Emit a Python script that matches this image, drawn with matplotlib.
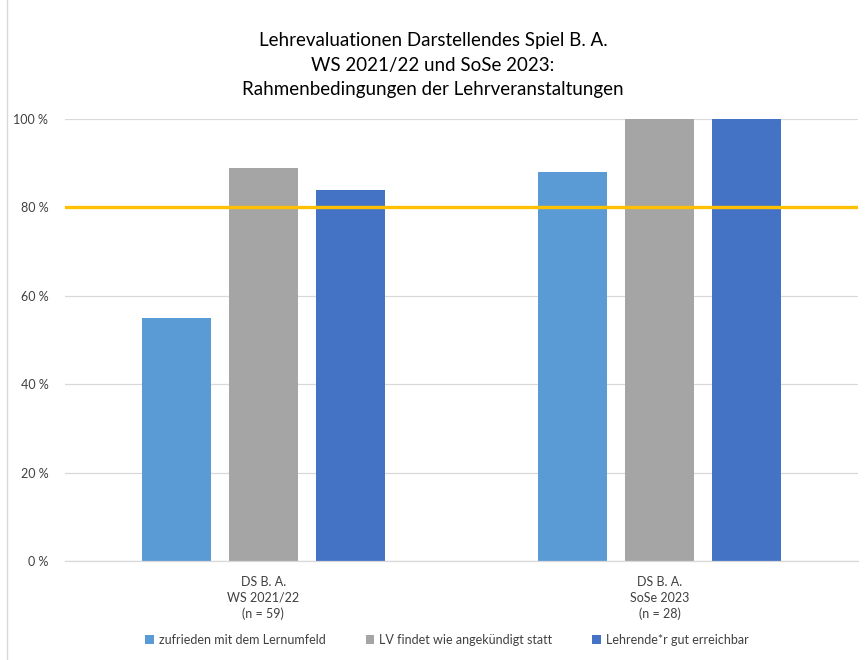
import matplotlib
matplotlib.use("Agg")
import matplotlib.pyplot as plt
from matplotlib.patches import Patch
from matplotlib.lines import Line2D
from matplotlib.ticker import FuncFormatter
import numpy as np

plt.rcParams['font.family'] = ['Lato', 'DejaVu Sans']

categories = ["DS B. A.\nWS 2021/22\n(n = 59)", "DS B. A.\nSoSe 2023\n(n = 28)"]
series_names = ["zufrieden mit dem Lernumfeld",
                "LV findet wie angekündigt statt",
                "Lehrende*r gut erreichbar"]
series_values = [
    [0.55, 0.88],
    [0.89, 1.00],
    [0.84, 1.00],
]
series_colors = ["#5B9BD5", "#A5A5A5", "#4472C4"]
target_value = 0.80
title = ("Lehrevaluationen Darstellendes Spiel B. A.\n"
         "WS 2021/22 und SoSe 2023:\n"
         "Rahmenbedingungen der Lehrveranstaltungen")

W, H = 866, 660
fig = plt.figure(figsize=(W / 100, H / 100), dpi=100)
ax = fig.add_axes([65 / W, (H - 561) / H, (858 - 65) / W, (561 - 119) / H])

x = np.arange(len(categories))
bar_w = 0.174
step = 0.219
for i, (vals, col) in enumerate(zip(series_values, series_colors)):
    ax.bar(x + (i - 1) * step, vals, width=bar_w, color=col, zorder=2)

ax.axhline(target_value, color="#FFC000", lw=2.4, zorder=3)

ax.set_xlim(-0.5, len(categories) - 0.5)
ax.set_ylim(0, 1.0)
ax.set_yticks(np.arange(0, 1.01, 0.2))
ax.yaxis.set_major_formatter(FuncFormatter(lambda v, _: f"{int(round(v * 100))} %"))
ax.set_xticks(x)
ax.set_xticklabels(categories, fontsize=9, color="#404040", linespacing=1.35)
ax.tick_params(axis="both", length=0, labelsize=9, colors="#404040")
ax.tick_params(axis="y", pad=12)
ax.tick_params(axis="x", pad=11)
ax.yaxis.grid(True, color="#D9D9D9", lw=0.9, zorder=0)
ax.set_axisbelow(True)
for s in ["top", "right", "left"]:
    ax.spines[s].set_visible(False)
ax.spines["bottom"].set_color("#D9D9D9")
ax.spines["bottom"].set_linewidth(0.9)

fig.text(433 / W, 1 - 65 / H, title, ha="center", va="center",
         fontsize=13.5, color="#000000", linespacing=1.55)

handles = [Patch(facecolor=c, edgecolor="none") for c in series_colors]
fig.legend(handles, series_names, loc="center", bbox_to_anchor=(447 / W, 1 - 640 / H),
           ncol=3, frameon=False, fontsize=9, handlelength=0.7, handleheight=0.7,
           handletextpad=0.4, columnspacing=3.2, labelcolor="#404040")

fig.add_artist(Line2D([7 / W, 7 / W], [0, 1], transform=fig.transFigure,
                      color="#D9D9D9", lw=1.0))

fig.savefig("out.png", dpi=100, facecolor="white")
